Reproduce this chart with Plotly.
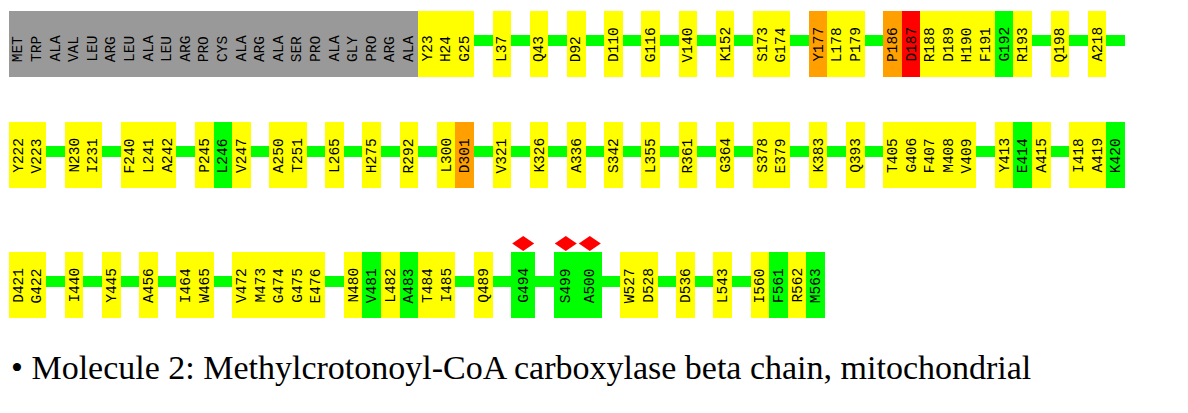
import plotly.graph_objects as go

# ---- data ----
row1_labels = ["MET", "TRP", "ALA", "VAL", "LEU", "ARG", "LEU", "ALA", "LEU", "ARG", "PRO",
               "CYS", "ALA", "ARG", "ALA", "SER", "PRO", "ALA", "GLY", "PRO", "ARG", "ALA",
               "Y23", "H24", "G25", "", "L37", "", "Q43", "", "D92", "", "D110", "", "G116", "",
               "V140", "", "K152", "", "S173", "G174", "", "Y177", "L178", "P179", "",
               "P186", "D187", "R188", "D189", "H190", "F191", "G192", "R193", "", "Q198", "",
               "A218", ""]
row2_labels = ["Y222", "V223", "", "N230", "I231", "", "F240", "L241", "A242", "",
               "P245", "L246", "V247", "", "A250", "T251", "", "L265", "", "H275", "", "R292", "",
               "L300", "D301", "", "V321", "", "K326", "", "A336", "", "S342", "", "L355", "",
               "R361", "", "G364", "", "S378", "E379", "", "K383", "", "Q393", "",
               "T405", "G406", "F407", "M408", "V409", "", "Y413", "E414", "A415", "",
               "I418", "A419", "K420"]
row3_labels = ["D421", "G422", "", "I440", "", "Y445", "", "A456", "", "I464", "W465", "",
               "V472", "M473", "G474", "G475", "E476", "", "N480", "V481", "L482", "A483",
               "T484", "I485", "", "Q489", "", "G494", "", "S499", "A500", "", "W527", "D528", "",
               "D536", "", "L543", "", "I560", "F561", "R562", "M563"]
rows = [row1_labels, row2_labels, row3_labels]

orange_res = ["Y177", "P186", "D301"]
red_res = ["D187"]
green_res = ["G192", "L246", "E414", "K420", "V481", "A483", "G494", "S499", "A500",
             "F561", "M563"]
diamond_res = ["G494", "S499", "A500"]
n_unmodelled = 22

title_text = "\u2022 Molecule 2: Methylcrotonoyl-CoA carboxylase beta chain, mitochondrial"

# ---- styles / layout geometry ----
COL = {"gray": "#999999", "yellow": "#FFFF00", "green": "#00FF00",
       "orange": "#FFA000", "red": "#FF0000"}
X0 = 9.0
CELL_W = 18.6
WIDE_W = 24.0
ROW_TOP = [11, 122, 252]
BOX_H = 66
LINE_OFF = 29.5
TEXT_OFF = 51
DIAM_OFF = -8.5
DIAM_HW, DIAM_HH = 11.0, 7.5
PAGE_PAD = 8  # browser body margin


def color_of(lab, first_row, idx):
    if first_row and idx < n_unmodelled:
        return COL["gray"]
    if lab in red_res:
        return COL["red"]
    if lab in orange_res:
        return COL["orange"]
    if lab in green_res:
        return COL["green"]
    return COL["yellow"]


bx, bw, bb, bc = [], [], [], []
shapes = []
annotations = []
for r, labels in enumerate(rows):
    top = ROW_TOP[r]
    x = X0
    start = x
    for i, lab in enumerate(labels):
        w = WIDE_W if lab in diamond_res else CELL_W
        c = x + w / 2
        if lab:
            bx.append(c); bw.append(w); bb.append(top); bc.append(color_of(lab, r == 0, i))
            annotations.append(dict(x=c, y=top + TEXT_OFF, text=lab, showarrow=False,
                                    textangle=-90, xanchor="center", yanchor="bottom",
                                    borderpad=0, borderwidth=0,
                                    font=dict(family="Liberation Mono", size=14.5, color="black")))
            if lab in diamond_res:
                cy = top + DIAM_OFF
                path = (f"M {c - DIAM_HW} {cy} L {c} {cy - DIAM_HH} "
                        f"L {c + DIAM_HW} {cy} L {c} {cy + DIAM_HH} Z")
                shapes.append(dict(type="path", xref="x", yref="y", path=path,
                                   fillcolor=COL["red"], line=dict(width=0), layer="above"))
        x += w
    shapes.append(dict(type="rect", xref="x", yref="y", layer="below",
                       x0=start, x1=x, y0=top + LINE_OFF - 5.5, y1=top + LINE_OFF + 5.5,
                       fillcolor=COL["green"], line=dict(width=0)))

fig = go.Figure()
fig.add_trace(go.Bar(x=bx, y=[BOX_H] * len(bx), base=bb, width=bw,
                     marker=dict(color=bc, line=dict(width=0)), showlegend=False,
                     hoverinfo="skip"))

annotations.append(dict(x=9, y=367, text=title_text, showarrow=False, xanchor="left",
                        yanchor="middle",
                        font=dict(family="Liberation Serif", size=34, color="black")))

fig.update_layout(width=1188, height=413, margin=dict(l=0, r=0, t=0, b=0),
                  paper_bgcolor="white", plot_bgcolor="white",
                  xaxis=dict(range=[PAGE_PAD, 1188 + PAGE_PAD], visible=False, fixedrange=True),
                  yaxis=dict(range=[413 + PAGE_PAD, PAGE_PAD], visible=False, fixedrange=True),
                  annotations=annotations, shapes=shapes, bargap=0)
fig.write_html("out.html")
